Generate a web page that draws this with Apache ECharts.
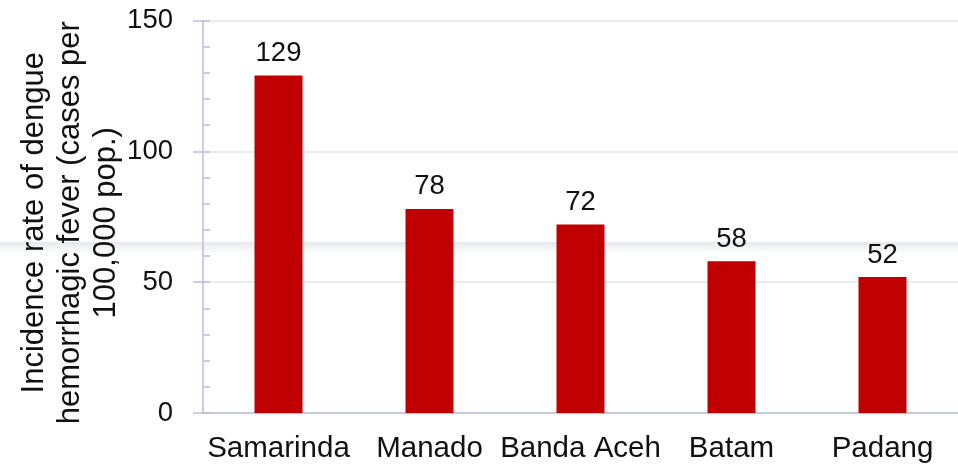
<!DOCTYPE html>
<html>
<head>
<meta charset="utf-8">
<style>
  html, body { margin: 0; padding: 0; background: #ffffff; }
  #chart { width: 958px; height: 470px; }
</style>
<script src="https://cdn.jsdelivr.net/npm/echarts@6/dist/echarts.min.js"></script>
</head>
<body>
<div id="chart"></div>
<script>
// Dengue hemorrhagic fever incidence by city
const cities = ['Samarinda', 'Manado', 'Banda Aceh', 'Batam', 'Padang'];
const incidence = [129, 78, 72, 58, 52];
const yTicks = [0, 50, 100, 150];

const FONT = '"Liberation Sans", Arial, Helvetica, sans-serif';
const AXIS_COLOR = '#b9bde0';
const yMin = yTicks[0];
const yMax = yTicks[yTicks.length - 1];
const yStep = yTicks[1] - yTicks[0];

const chart = echarts.init(document.getElementById('chart'), null, { renderer: 'canvas' });

chart.setOption({
  animation: false,
  backgroundColor: '#ffffff',
  textStyle: { fontFamily: FONT },
  grid: { left: 203, right: 0, top: 20.5, bottom: 57, containLabel: false },
  graphic: [{
    // soft grey band across the page
    type: 'rect',
    z: -10,
    silent: true,
    shape: { x: 0, y: 242, width: 958, height: 12 },
    style: {
      fill: new echarts.graphic.LinearGradient(0, 0, 0, 1, [
        { offset: 0, color: 'rgba(205,210,222,0.5)' },
        { offset: 1, color: 'rgba(205,210,222,0)' }
      ])
    }
  }],
  xAxis: {
    type: 'category',
    data: cities,
    axisLine: { show: true, lineStyle: { color: AXIS_COLOR, width: 1.5 } },
    axisTick: { show: false },
    axisLabel: { color: '#111', fontSize: 29.5, margin: 21, fontFamily: FONT, interval: 0 },
    splitLine: { show: false }
  },
  yAxis: [{
    type: 'value',
    min: yMin,
    max: yMax,
    interval: yStep,
    name: 'Incidence rate of dengue\nhemorrhagic fever (cases per\n100,000 pop.)',
    nameLocation: 'middle',
    nameGap: 79,
    nameMoveOverlap: false,
    nameTextStyle: { color: '#111', fontSize: 31, lineHeight: 36, fontFamily: FONT, padding: [0, 12, 0, 0] },
    axisLine: { show: true, lineStyle: { color: AXIS_COLOR, width: 1.5 } },
    axisTick: { show: true, inside: true, length: 7, lineStyle: { color: AXIS_COLOR, width: 1.5 } },
    minorTick: { show: true, splitNumber: 5, length: 7, lineStyle: { color: AXIS_COLOR, width: 1.5 } },
    axisLabel: { color: '#111', fontSize: 27.5, margin: 30, fontFamily: FONT },
    splitLine: { show: true, lineStyle: { color: '#e3e3ea', width: 1.5 } }
  }, {
    // outward half of the major ticks
    type: 'value',
    position: 'left',
    min: yMin,
    max: yMax,
    interval: yStep,
    axisLine: { show: false },
    axisTick: { show: true, inside: false, length: 10, lineStyle: { color: AXIS_COLOR, width: 1.5 } },
    axisLabel: { show: false },
    splitLine: { show: false }
  }],
  series: [{
    type: 'bar',
    data: incidence,
    barWidth: 48,
    itemStyle: { color: '#c00000' },
    label: {
      show: true,
      position: 'top',
      distance: 8,
      color: '#111',
      fontSize: 27.5,
      fontFamily: FONT
    }
  }]
});
</script>
</body>
</html>
